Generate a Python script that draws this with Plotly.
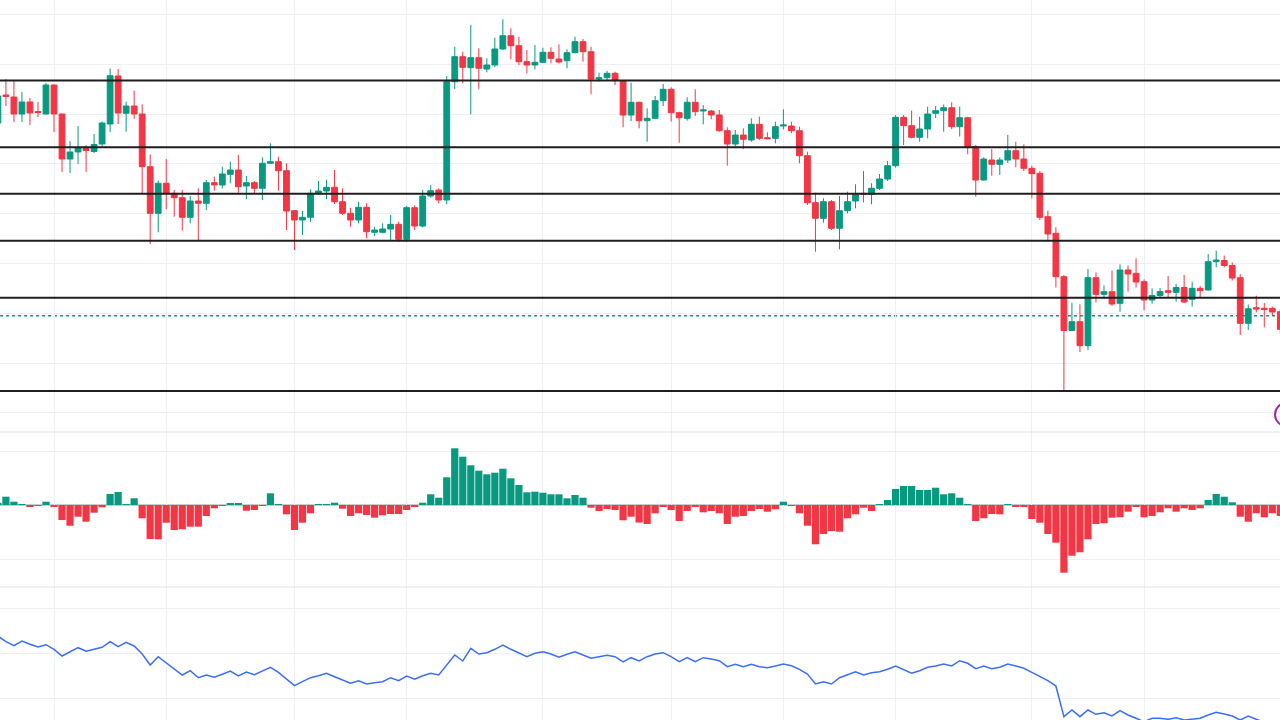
import plotly.graph_objects as go
from plotly.subplots import make_subplots

# ── Data ──────────────────────────────────────────────────────────────────────
bars = list(range(161))

opens = [377, 405, 403, 386, 398, 388.5, 386, 415, 386, 341,
         348, 351.5, 348.5, 356, 376, 424, 386.7, 394, 386, 333.3,
         286.7, 316.7, 306.7, 302.3, 282.7, 299, 296.7, 317.3, 315, 325.7,
         330, 314, 317.3, 311.7, 336.7, 338.3, 329.3, 289.3, 280, 282.7,
         306.7, 309, 312.7, 298.3, 286.7, 280, 292.7, 267.7, 267.7, 271,
         275.7, 260.7, 292.3, 274, 304, 310, 300, 418.3, 443.3, 432.3,
         442.3, 431, 435, 451, 464.3, 454.3, 438.3, 435, 437.7, 447.7,
         441, 439.3, 447.3, 458.3, 448.3, 421, 422.3, 426.7, 419.3, 385,
         397.7, 379.3, 381.7, 399.3, 410.7, 387.3, 381.7, 397.7, 389, 389,
         385, 369.3, 356, 365, 360, 375.7, 362.3, 361.7, 374, 374,
         369.3, 344.3, 297.3, 281.7, 298.3, 271.7, 289.3, 299, 306.7, 305.7,
         311.7, 321, 334.3, 382.7, 374.3, 362.7, 371, 386.7, 389.3, 392.3,
         373.3, 382.3, 353.3, 320, 340, 335.7, 340, 349.3, 341, 331.7,
         326.7, 283.3, 266.7, 223.3, 169.5, 178.3, 154.3, 222.3, 205.7, 208.3,
         196.7, 230, 226.7, 218.3, 200, 204.5, 209.3, 207.7, 212.5, 200.7,
         211.7, 210, 238.3, 239.5, 234.5, 222.3, 176.7, 192.3, 191.7, 191.7,
         188.3]

highs = [406, 421, 420, 408, 402, 398, 417, 415.5, 386.5, 359,
         374, 355, 366, 378.5, 431.5, 431, 398.3, 409.3, 395.7, 345.7,
         319.3, 341, 310, 310, 304, 311.7, 320, 323.3, 333.3, 338.3,
         345, 324, 319, 342.7, 356.7, 343.3, 336.7, 290, 289, 310.7,
         319, 320, 330, 311.7, 292, 298.3, 296.7, 273.3, 276.7, 285,
         278.3, 294, 294.5, 310, 315, 311.7, 424, 453.3, 448.3, 475,
         451.7, 441.7, 462.3, 480.7, 471.7, 463.3, 450, 455, 452.3, 452.7,
         455.7, 450.7, 463.3, 461, 453.3, 427.3, 429.3, 428.3, 420, 417.3,
         398.3, 391.7, 404, 416, 412.7, 388.3, 402.7, 410.7, 395, 390,
         390, 372.7, 370, 371.7, 381.7, 383.3, 367.7, 378.3, 390.7, 378.3,
         373.3, 348.3, 307.3, 301.7, 300, 304, 308.3, 315.7, 329, 316.7,
         326, 339, 385, 385, 389.3, 383.3, 393.3, 394, 395.5, 397.7,
         393.3, 383.3, 355, 342.7, 351, 342.7, 365, 358.3, 355.7, 334.3,
         329, 289.3, 272.7, 225, 197.3, 195.7, 231, 227.5, 214.5, 229.5,
         235.7, 234.5, 241.7, 220.7, 211.7, 212, 224, 216, 225, 218.3,
         214, 246, 249.3, 244.5, 237.5, 225.7, 195.5, 204.3, 197, 193.5,
         191]

lows = [375, 394, 378, 378, 375, 383, 385.5, 368, 328, 327,
        336, 328, 347, 353.5, 368, 376, 368.3, 381, 306.7, 256,
        267.7, 290.7, 283.3, 269.3, 276.7, 259.3, 290, 309.3, 311.7, 316.7,
        307.3, 300.7, 306.7, 300, 336.5, 309.3, 270, 250, 265, 278.3,
        305, 300.7, 296, 285, 273.3, 276.7, 261.7, 264, 266.7, 259.5,
        258, 258, 270, 272.5, 302.3, 296.7, 295.7, 411, 416.7, 385.7,
        411, 427.7, 432.7, 450, 440.7, 435, 426.7, 430.7, 436.7, 436.7,
        436.7, 431.7, 446.7, 438.3, 405.7, 418.3, 419, 415, 372.7, 379,
        371.7, 358.3, 380.7, 394, 378.3, 357.3, 379.3, 384, 375.7, 380.7,
        368.3, 334.3, 353.3, 351, 358.3, 360, 360.7, 356.7, 370.7, 366.7,
        336.7, 295, 248.3, 277.3, 270, 250.7, 286.7, 291.7, 297.7, 295.7,
        310, 319, 332.3, 355, 361.7, 358.3, 361.7, 382, 368.3, 371,
        363.5, 345.7, 303.3, 319.3, 324.3, 325, 337, 332.7, 329, 301.7,
        280, 258.3, 212.5, 109, 169, 148, 150, 197.5, 201, 194,
        188.3, 208.3, 212.5, 189.5, 196.3, 202.5, 203, 198.5, 197, 193.3,
        202.5, 209.3, 232.7, 232.5, 219.5, 165, 170, 187.5, 172.7, 185,
        166]

closes = [404, 403.5, 386, 398, 387, 387.5, 415, 386, 341, 348,
          352, 349.5, 355.5, 377, 424.3, 387, 394, 386, 333.3, 286.7,
          316.7, 306.7, 302.3, 282.7, 299, 296.7, 317.3, 315, 326, 330,
          313.3, 317.3, 311.7, 336.7, 338.3, 329.3, 289, 280, 282.7, 306.7,
          309, 312.7, 298.3, 286.7, 280, 292.7, 268.3, 270, 271, 275.7,
          260.7, 292.3, 274, 304, 309.3, 300, 418.3, 443.3, 432.7, 442.3,
          431.7, 435, 451, 464.3, 454.3, 438.3, 435, 437.7, 447.7, 441.7,
          438, 447.3, 458.3, 448.3, 421, 422.3, 426.7, 419.3, 385, 397.7,
          379.3, 381.7, 399.3, 410.7, 387.3, 382.3, 397.7, 388.3, 390, 385,
          369.3, 356, 365, 360.7, 375.7, 361.7, 361.3, 373.3, 375, 369.3,
          344.3, 297.3, 281.7, 298.3, 271.7, 289.3, 298.3, 305.7, 305.5, 311.7,
          321, 334.3, 382.7, 374.3, 362.7, 371, 386, 389.3, 392.3, 373.3,
          382.3, 353, 320, 341, 335.7, 340, 349.3, 341, 331.7, 326.3,
          282.7, 266, 223.3, 169.5, 178.3, 154.3, 222.3, 205.7, 208.3, 196,
          230, 226, 218, 200, 204.5, 208.5, 207.7, 212.5, 198, 211.7,
          209.3, 238.3, 240, 234.5, 222, 176.7, 191.2, 191, 190.5, 188,
          170.7]

hist = [2.3, 8.3, 3.3, 0.3, -2, -0.3, 3.3, -1.7, -15, -20.7,
        -11.7, -16.7, -7.7, -2.3, 11, 13, 0.3, 6.7, -13.3, -34,
        -34.3, -17.7, -25, -24.3, -21.7, -21.7, -11, -3.3, -0.7, 1.7,
        1.7, -5.7, -5, -0.5, 11.7, 0.3, -9.3, -25, -17.7, -8.3,
        0.7, 0.2, 2.3, -3.7, -11, -8.3, -10, -12.7, -10.3, -9,
        -9, -5, -1.7, 2.3, 10.7, 7.3, 27.7, 56.7, 48.3, 39.7,
        34.3, 30.7, 32.3, 36.3, 26.7, 20, 12.7, 13.3, 12.3, 10.7,
        10.7, 6.7, 10, 7.3, -2.7, -6, -4, -5, -15.3, -11.7,
        -17.5, -19, -8.3, -1.7, -5, -16, -6, -1.7, -7.3, -6,
        -8.3, -19, -11.7, -11, -6, -4, -6.7, -4.3, 3.3, -1,
        -8.3, -20.7, -39.3, -29, -26, -26.7, -13.3, -9.3, -2.7, -6,
        0.2, 5, 16, 19, 19, 15, 15, 17.3, 10.7, 11.7,
        7.3, 0.5, -16, -13.3, -9, -9.3, 0.5, -2, -2, -14,
        -17.7, -29, -37.7, -67.7, -50.7, -47.3, -34.3, -19, -18.3, -12.7,
        -12.3, -6.7, -1.7, -12.3, -11, -7.3, -3.3, -6.7, -3.3, -5,
        -3.3, 5, 11, 8.3, 2.7, -11.7, -16.7, -8.3, -12.3, -8.3,
        -11]

line_vals = [124, 118.3, 114.3, 119, 115.7, 113, 115.3, 110.7, 104, 108.3,
             112.3, 108.7, 110.7, 112.7, 118.3, 113.3, 117.7, 114, 106, 95,
             103.3, 97.3, 91.3, 85, 89.3, 82.3, 85, 82.7, 85.7, 89,
             84, 88, 85.3, 89, 92.7, 87.7, 81, 74.3, 78.3, 82.3,
             84.3, 86.7, 83.3, 80, 76.7, 79.3, 76, 77.3, 78.3, 82.3,
             79.3, 84, 80.7, 84.3, 86.7, 85, 95, 105, 99, 111.7,
             106, 107.3, 110.7, 115, 110.7, 106.7, 103.3, 106.7, 108.3, 106,
             102.7, 105.7, 108.3, 105, 101.7, 103.3, 104.7, 103.3, 98, 102.3,
             99, 103.3, 106, 107.3, 103.3, 98.3, 102.3, 98.3, 102.3, 101,
             99.3, 93.3, 95.7, 93.3, 95.7, 93.3, 92.3, 94, 96, 94.3,
             90.7, 86, 76, 78.3, 76, 82.3, 85, 88.3, 85, 87.3,
             88.3, 90.7, 94, 90, 86.7, 89.3, 92.7, 94, 96, 94,
             99.3, 96.7, 91.3, 94, 91.3, 92.7, 96, 94, 91.7, 87.7,
             83.3, 79.3, 74, 43.3, 50, 43.3, 50, 45.7, 47.3, 44,
             49.3, 45, 41.7, 38.3, 41.7, 41.7, 40.7, 42.3, 40, 40.7,
             41.7, 45, 47.7, 46, 44, 40, 44, 40.7, 38.3, 35,
             34]

levels = [419.5, 352.7, 306.2, 259.3, 202.3, 109]   # horizontal drawn lines
ref_price = 184.3                                     # dotted price line
grid_bars = [7, 21, 37, 51, 68, 84, 98, 112, 129, 143]

# ── Styles ────────────────────────────────────────────────────────────────────
GREEN = "#089981"
RED = "#F23645"
GRID = "#eef0f3"
SEP = "#e0e3eb"

fig = make_subplots(rows=3, cols=1, shared_xaxes=True, vertical_spacing=0,
                    row_heights=[432, 155, 133])

fig.add_trace(go.Candlestick(
    x=bars, open=opens, high=highs, low=lows, close=closes,
    increasing=dict(line=dict(color=GREEN, width=1), fillcolor=GREEN),
    decreasing=dict(line=dict(color=RED, width=1), fillcolor=RED),
    whiskerwidth=0, hoverinfo="skip",
), row=1, col=1)

fig.add_trace(go.Bar(
    x=bars, y=hist,
    marker=dict(color=[GREEN if v >= 0 else RED for v in hist], line=dict(width=0)),
    hoverinfo="skip",
), row=2, col=1)

fig.add_trace(go.Scatter(
    x=bars, y=line_vals, mode="lines",
    line=dict(color="#3d6ef6", width=1.5),
    hoverinfo="skip",
), row=3, col=1)

# horizontal levels
for lv in levels:
    fig.add_hline(y=lv, row=1, col=1, line=dict(color="#1e1e1e", width=2))
fig.add_hline(y=ref_price, row=1, col=1, layer="below",
              line=dict(color=GREEN, width=1.5, dash="dot"))
fig.add_hline(y=0, row=2, col=1, layer="below",
              line=dict(color="#9598a1", width=1))

# pane separators
for yy in (0.4, 133 / 720):
    fig.add_shape(type="line", xref="paper", yref="paper", x0=0, x1=1, y0=yy, y1=yy,
                  line=dict(color=SEP, width=1))

# purple marker at the right edge
fig.add_shape(type="circle", xref="paper", yref="paper",
              x0=1275 / 1280, x1=1298 / 1280, y0=1 - 426 / 720, y1=1 - 403 / 720,
              line=dict(color="#9c27b0", width=2))

fig.update_xaxes(range=[0.262, 159.96], tickvals=grid_bars, showticklabels=False,
                 showgrid=True, gridcolor=GRID, gridwidth=1, zeroline=False,
                 showline=False, ticks="", rangeslider_visible=False)
fig.update_yaxes(showticklabels=False, zeroline=False, showline=False,
                 gridcolor=GRID, gridwidth=1, ticks="")
fig.update_yaxes(range=[68, 500], tick0=87.1, dtick=49.8, row=1, col=1)
fig.update_yaxes(range=[-82, 73], tickvals=[-54, 54], row=2, col=1)
fig.update_yaxes(range=[40, 173], tickvals=[62, 107, 152], row=3, col=1)

fig.update_layout(
    width=1280, height=720,
    margin=dict(l=0, r=0, t=0, b=0),
    paper_bgcolor="white", plot_bgcolor="white",
    showlegend=False,
    boxgap=0.15, boxgroupgap=0.15,
    bargap=0.1,
)

fig.write_html(
    "out.html",
    config={"displayModeBar": False},
    post_script="document.body.style.margin='0';document.body.style.overflow='hidden';",
)
